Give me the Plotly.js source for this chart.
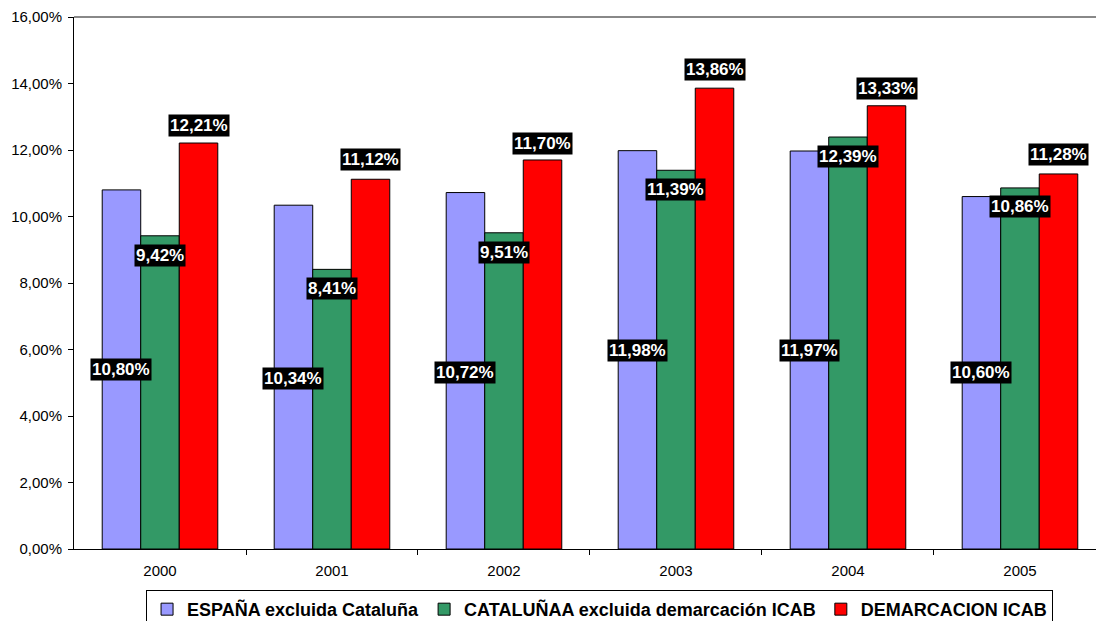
<!DOCTYPE html>
<html>
<head>
<meta charset="utf-8">
<script src="https://cdn.plot.ly/plotly-3.0.1.min.js"></script>
<style>html,body{margin:0;padding:0;background:#fff;}#chart{width:1096px;height:621px;}</style>
</head>
<body>
<div id="chart"></div>
<script>
const years = ["2000", "2001", "2002", "2003", "2004", "2005"];
const espana = [10.80, 10.34, 10.72, 11.98, 11.97, 10.60];
const cataluna = [9.42, 8.41, 9.51, 11.39, 12.39, 10.86];
const icab = [12.21, 11.12, 11.70, 13.86, 13.33, 11.28];
const seriesNames = ["ESPAÑA excluida Cataluña", "CATALUÑAA excluida demarcación ICAB", "DEMARCACION ICAB"];
const yTicks = [0, 2, 4, 6, 8, 10, 12, 14, 16];

// label anchor heights (in axis units) as placed in the original chart
const labelYEspana = [5.41, 5.14, 5.32, 5.98, 5.98, 5.32];
const labelYCataluna = [8.84, 7.82, 8.93, 10.80, 11.79, 10.29];
const labelYIcab = [12.75, 11.70, 12.21, 14.41, 13.86, 11.85];

const colors = ["#9999FF", "#339966", "#FF0000"];
const fmt = v => v.toFixed(2).replace('.', ',') + '%';
const xIdx = years.map((_, i) => i);
const barW = 0.224;

const allSeries = [espana, cataluna, icab];
const traces = allSeries.map((vals, k) => ({
  type: 'bar',
  name: seriesNames[k],
  x: xIdx,
  y: vals,
  marker: {color: colors[k], line: {color: '#000', width: 1}},
  hoverinfo: 'skip'
}));

const labelYs = [labelYEspana, labelYCataluna, labelYIcab];
const annotations = [];
allSeries.forEach((vals, k) => {
  vals.forEach((v, i) => {
    annotations.push({
      x: i + (k - 1) * barW,
      y: labelYs[k][i],
      xref: 'x', yref: 'y',
      text: '<b>' + fmt(v) + '</b>',
      showarrow: false,
      bgcolor: '#000',
      borderpad: 1,
      font: {family: 'Liberation Sans, Arial, sans-serif', size: 17, color: '#fff'},
      xanchor: 'center', yanchor: 'middle'
    });
  });
});

const layout = {
  width: 1096, height: 621,
  margin: {l: 74, r: 0, t: 17, b: 72, pad: 0, autoexpand: false},
  paper_bgcolor: '#fff', plot_bgcolor: '#fff',
  separators: ',.',
  barmode: 'group',
  bargap: 0.328,
  bargroupgap: 0,
  font: {family: 'Liberation Sans, Arial, sans-serif', size: 15, color: '#000'},
  xaxis: {
    range: [-0.5, 5.442],
    tickmode: 'array', tickvals: xIdx, ticktext: years,
    ticks: '', showgrid: false, zeroline: false,
    showline: true, linecolor: '#000', linewidth: 1,
    ticklabelstandoff: 8,
    tickfont: {size: 15},
    minor: {tickmode: 'array', tickvals: [0.5, 1.5, 2.5, 3.5, 4.5], ticks: 'outside', ticklen: 5, tickcolor: '#000', showgrid: false}
  },
  yaxis: {
    range: [0, 16],
    tickmode: 'array', tickvals: yTicks, ticktext: yTicks.map(fmt),
    ticks: 'outside', ticklen: 5, tickcolor: '#000',
    showgrid: false, zeroline: false,
    showline: true, linecolor: '#000', linewidth: 1,
    ticklabelstandoff: 3,
    tickfont: {size: 15}
  },
  showlegend: true,
  legend: {
    orientation: 'h',
    x: 0.0705, xanchor: 'left',
    y: -0.077, yanchor: 'top',
    bordercolor: '#000', borderwidth: 1,
    font: {family: 'Liberation Sans, Arial, sans-serif', size: 18, color: '#000', weight: 'bold'},
    itemwidth: 30,
    traceorder: 'normal'
  },
  shapes: [{
    type: 'line', xref: 'paper', yref: 'paper', x0: 0, x1: 1, y0: 1, y1: 1,
    line: {color: '#888', width: 2}
  }],
  annotations: annotations
};

Plotly.newPlot('chart', traces, layout, {displayModeBar: false, staticPlot: true});
</script>
</body>
</html>
